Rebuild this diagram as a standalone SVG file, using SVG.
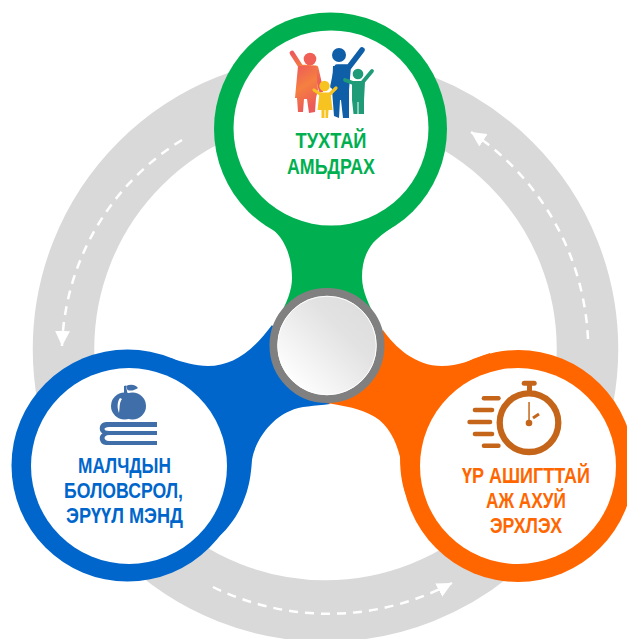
<svg xmlns="http://www.w3.org/2000/svg" width="627" height="639" viewBox="0 0 627 639">
<style>
.t{font-family:"Liberation Sans",Arial,sans-serif;font-weight:700;font-size:21.5px;text-anchor:middle}
.dash{fill:none;stroke:#fff;stroke-width:2.5;stroke-dasharray:9 7}
.g{fill:#00b050}.b{fill:#0066cc}.o{fill:#ff6600}
.w{fill:#fff}
.bi{fill:#3f6ea8}.oi{fill:#c5651a}
.fig{fill:none;stroke-linecap:round;stroke-linejoin:round}
</style>
<defs>
<marker id="ah" viewBox="0 0 15 15" refX="15" refY="7.500" markerWidth="15" markerHeight="15" markerUnits="userSpaceOnUse" orient="auto"><path d="M0 0L15 7.500L0 15z" fill="#fff"/></marker>
<linearGradient id="hub" x1="0.15" y1="0.85" x2="0.85" y2="0.15"><stop offset="0" stop-color="#fff"/><stop offset="0.7" stop-color="#e2e2e2"/><stop offset="1" stop-color="#dedede"/></linearGradient>
<linearGradient id="red" x1="0" y1="0" x2="0.3" y2="1"><stop offset="0" stop-color="#ee5a5a"/><stop offset="0.5" stop-color="#f58040"/><stop offset="1" stop-color="#ec5a5a"/></linearGradient>
</defs>
<g id="ring"><circle cx="325.500" cy="349" r="262" fill="none" stroke="#d9d9d9" stroke-width="61.500"/></g>
<g id="connectors">
<path class="dash" marker-end="url(#ah)" d="M588 339A263 263 0 0 0 471 132"/>
<path class="dash" marker-end="url(#ah)" d="M182 140A252 252 0 0 0 62 346"/>
<path class="dash" marker-end="url(#ah)" d="M213 587A263 263 0 0 0 452 583"/>
</g>
<g id="node-green">
<path class="g" d="M243 202C255 216 270 225 280 237C288 248 292 262 292 278C292 290 287 303 277 320H377C370 307 362 292 362 277C362 262 366 252 373 243C380 235 388 231 397 223C405 216 411 210 417 204Z"/>
<circle class="g" cx="330.500" cy="129" r="116.500"/>
<circle class="w" cx="331" cy="128" r="97.500"/>
<g id="family">
<path class="fig" stroke="url(#red)" stroke-width="4.800" d="M292 53L301 67L316 68L321 90"/>
<path fill="url(#red)" d="M298 66H316L318 90L316 98L315 112L309 113L307 99H304L303 112L298 112L297 98H295Z"/>
<circle cx="310" cy="59" r="6.300" fill="#ef5f55"/>
<path class="fig" stroke="#0e5ea8" stroke-width="5.500" d="M362 50L349 67H337L333 86"/>
<path fill="#0e5ea8" d="M333 66H351L349 90V118L343 118L341 100H340L339 118L334 116L332 90Z"/>
<circle cx="339" cy="55" r="7" fill="#0e5ea8"/>
<path class="fig" stroke="#f7c320" stroke-width="3.200" d="M314 90L320 94H330L336 88"/>
<path fill="#f7c320" d="M319.500 93H330.500L332.500 110H328.500L328 118H325.500V110H324.500V118H321.500L321.500 110H317.500Z"/>
<circle cx="324.500" cy="86" r="5.200" fill="#f7c320"/>
<path class="fig" stroke="#1f9b78" stroke-width="3.800" d="M345 80L353 83H362L372 71"/>
<path fill="#1f9b78" d="M352 82H365L364 100V114H358.500V102H357.500V114H353.500L352 100Z"/>
<circle cx="358" cy="74" r="5.300" fill="#1f9b78"/>
</g>
<text class="t g" x="331" y="148" textLength="71" lengthAdjust="spacingAndGlyphs">ТУХТАЙ</text>
<text class="t g" x="331" y="174" textLength="88" lengthAdjust="spacingAndGlyphs">АМЬДРАХ</text>
</g>
<g id="node-blue">
<path class="b" d="M170 358C183 362 195 366 208 366C232 366 252 352 272 325L330 404C315 406 300 406 290 411C272 418 255 440 252 460C251 475 249 487 245 497C240 512 230 528 213 542L150 460Z"/>
<circle class="b" cx="127.500" cy="465.500" r="116"/>
<circle class="w" cx="129" cy="466" r="98"/>
<g id="books">
<path class="bi" d="M124 396L124 386L126 385.500L127.500 390C131 391.500 135 390 138 388C135 384 130 384 126 386L128 396Z"/>
<circle cx="124.500" cy="406" r="13.500" class="bi"/>
<circle cx="132.500" cy="406" r="13.500" class="bi"/>
<path class="w" d="M120 398C117 402 117 408 119 413C120 408 119 403 122 399Z"/>
<path class="bi" d="M106 422H157V427H109C103 427 103 431 109 431H157V435H109C103 435 103 441 109 441H157V445H106C99 445 98 435 102.500 433.500C98 431 99 422 106 422Z"/>
</g>
<text class="t b" x="124.500" y="473" textLength="93" lengthAdjust="spacingAndGlyphs">МАЛЧДЫН</text>
<text class="t b" x="123.500" y="498" textLength="119" lengthAdjust="spacingAndGlyphs">БОЛОВСРОЛ,</text>
<text class="t b" x="124.500" y="523" textLength="117" lengthAdjust="spacingAndGlyphs">ЭРҮҮЛ МЭНД</text>
</g>
<g id="node-orange">
<path class="o" d="M383 330C395 347 415 366 442 366C458 366 472 360 490 353L480 450L437 548C424 532 416 520 408 500C403 490 400 475 400 457C396 440 388 425 375 417C360 408 345 406 326 403Z"/>
<circle class="o" cx="518" cy="466" r="116"/>
<circle class="w" cx="518" cy="466" r="98"/>
<g id="stopwatch" class="oi">
<rect x="521.700" y="380.700" width="15" height="5" rx="2.500"/><rect x="527" y="385" width="5" height="7"/>
<circle cx="529" cy="422.700" r="29.300" fill="#fff" stroke="#c5651a" stroke-width="6.300"/>
<rect x="528.300" y="402" width="1.500" height="21"/>
<circle cx="529" cy="423" r="3.300"/>
<path d="M533 418L539 414" stroke="#c5651a" stroke-width="3" fill="none"/>
<rect x="481.700" y="396" width="19" height="4.500" rx="2.200"/><rect x="472.700" y="407.800" width="21.600" height="4.500" rx="2.200"/><rect x="467.300" y="419.800" width="25" height="4.500" rx="2.200"/><rect x="472.700" y="431.800" width="21.600" height="4.500" rx="2.200"/><rect x="481.700" y="443.500" width="19" height="4.500" rx="2.200"/>
</g>
<text class="t o" x="526" y="483" textLength="128" lengthAdjust="spacingAndGlyphs">ҮР АШИГТТАЙ</text>
<text class="t o" x="526" y="508" textLength="80" lengthAdjust="spacingAndGlyphs">АЖ АХУЙ</text>
<text class="t o" x="526" y="533" textLength="72" lengthAdjust="spacingAndGlyphs">ЭРХЛЭХ</text>
</g>
<g id="hub-node">
<circle cx="327" cy="345.500" r="53.500" fill="url(#hub)" stroke="#808080" stroke-width="8"/>
<circle cx="327" cy="345.500" r="49.300" fill="none" stroke="#fff" stroke-width="1"/>
</g>
</svg>
